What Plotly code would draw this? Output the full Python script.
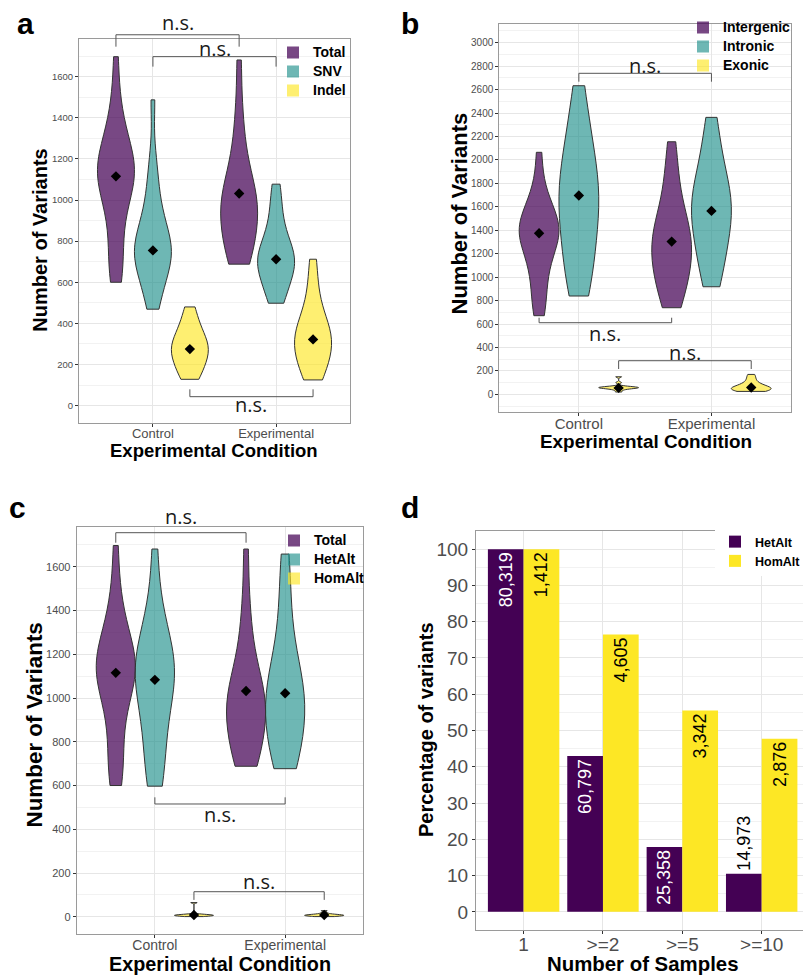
import plotly.graph_objects as go

# page body has an 8px margin: figure drawn 8px in from the reference's top-left
OFF = 8
FW, FH = 811 - OFF, 975 - OFF

# ---------------- data ----------------
conditions = ["Control", "Experimental"]

# panel a: Total / SNV / Indel
a_groups = ["Total", "SNV", "Indel"]
a_total_ctrl = [600, 640, 700, 780, 860, 940, 1000, 1040, 1070, 1090, 1110, 1130, 1150, 1170,
                1190, 1210, 1240, 1280, 1330, 1400, 1500, 1697]
a_total_exp = [688, 700, 730, 770, 810, 850, 880, 910, 940, 960, 980, 1000, 1030, 1060, 1100,
               1150, 1220, 1320, 1450, 1681]
a_snv_ctrl = [469, 520, 580, 630, 660, 690, 710, 730, 745, 760, 780, 800, 830, 860, 900, 950,
              1020, 1100, 1200, 1487]
a_snv_exp = [498, 530, 570, 610, 640, 665, 685, 700, 715, 730, 750, 775, 810, 860, 920, 1000, 1077]
a_indel_ctrl = [128, 150, 180, 210, 235, 255, 270, 285, 300, 320, 345, 380, 420, 480]
a_indel_exp = [125, 150, 185, 220, 250, 275, 295, 315, 335, 355, 380, 410, 450, 510, 600, 712]
a_total_mean = [1115, 1032]
a_snv_mean = [755, 712]
a_indel_mean = [275, 322]

# panel b: Intergenic / Intronic / Exonic
b_groups = ["Intergenic", "Intronic", "Exonic"]
b_interg_ctrl = [671, 760, 880, 1000, 1100, 1180, 1250, 1300, 1340, 1370, 1400, 1420, 1450, 1480,
                 1520, 1580, 1660, 1780, 2065]
b_interg_exp = [739, 800, 880, 960, 1020, 1080, 1130, 1180, 1230, 1280, 1320, 1370, 1420, 1470,
                1540, 1650, 1800, 1950, 2155]
b_intron_ctrl = [839, 900, 1000, 1100, 1200, 1300, 1400, 1480, 1550, 1620, 1680, 1740, 1800, 1870,
                 1950, 2050, 2150, 2280, 2420, 2633]
b_intron_exp = [918, 1000, 1100, 1200, 1290, 1370, 1440, 1500, 1550, 1600, 1650, 1700, 1760, 1830,
                1920, 2050, 2200, 2363]
b_exon_ctrl = [20, 35, 45, 50, 52, 55, 57, 58, 60, 62, 65, 70, 100, 150]
b_exon_exp = [25, 30, 35, 40, 45, 50, 55, 60, 65, 75, 90, 110, 140, 170]
b_interg_mean = [1375, 1303]
b_intron_mean = [1697, 1565]
b_exon_mean = [55, 58]

# panel c: Total / HetAlt / HomAlt
c_groups = ["Total", "HetAlt", "HomAlt"]
c_total_ctrl = a_total_ctrl
c_total_exp = a_total_exp
c_het_ctrl = [597, 630, 700, 780, 850, 920, 980, 1030, 1070, 1100, 1120, 1140, 1160, 1190, 1230,
              1280, 1350, 1450, 1681]
c_het_exp = [677, 700, 740, 790, 840, 880, 920, 950, 980, 1010, 1040, 1080, 1120, 1180, 1260,
             1380, 1520, 1658]
c_hom_ctrl = [1, 3, 4, 5, 6, 7, 8, 9, 10, 12, 65]
c_hom_exp = [1, 3, 4, 5, 6, 7, 8, 9, 10, 12, 18, 28]
c_total_mean = [1115, 1032]
c_het_mean = [1083, 1022]
c_hom_mean = [8, 8]

# panel d: percentage of variants by number of samples
d_cats = ["1", ">=2", ">=5", ">=10"]
d_het_pct = [100, 43.0, 17.9, 10.5]
d_hom_pct = [100, 76.5, 55.5, 47.7]
d_het_labels = ["80,319", "60,797", "25,358", "14,973"]
d_hom_labels = ["1,412", "4,605", "3,342", "2,876"]

# ---------------- style ----------------
VIR = ["#440154", "#21908C", "#FDE725"]
FILL = ["rgba(68,1,84,0.72)", "rgba(33,144,140,0.65)", "rgba(253,231,37,0.65)"]
OFFS = [-0.3, 0.0, 0.3]
FONT = "Liberation Sans"


def px(p):
    return (p - OFF) / FW


def py(p):
    return 1 - (p - OFF) / FH


def dom_x(p0, p1):
    return [px(p0), px(p1)]


def dom_y(ptop, pbot):
    return [py(pbot), py(ptop)]


def big(name, size=14):
    return f'<span style="font-size:{size}px">{name}</span>'


fig = go.Figure()


def add_violin_panel(n, groups, samples, means, legend):
    xr = "x" if n == 1 else f"x{n}"
    yr = "y" if n == 1 else f"y{n}"
    for gi, g in enumerate(groups):
        for ci in range(2):
            fig.add_trace(go.Violin(
                x0=ci + 1 + OFFS[gi], y=samples[gi][ci], name=g,
                showlegend=False, width=0.3, spanmode="hard",
                points=False, fillcolor=FILL[gi], line=dict(color="#333333", width=1),
                xaxis=xr, yaxis=yr, hoverinfo="y"))
        # legend-only key (plain square swatch like the original)
        fig.add_trace(go.Bar(x=[None], y=[None], name=big(g), legend=legend,
                             marker=dict(color=FILL[gi], line=dict(width=0)),
                             xaxis=xr, yaxis=yr, hoverinfo="skip"))
    xs, ys = [], []
    for gi in range(len(groups)):
        for ci in range(2):
            xs.append(ci + 1 + OFFS[gi])
            ys.append(means[gi][ci])
    fig.add_trace(go.Scatter(x=xs, y=ys, mode="markers", showlegend=False,
                             marker=dict(symbol="diamond", size=8, color="black"),
                             xaxis=xr, yaxis=yr))


add_violin_panel(1, a_groups,
                 [[a_total_ctrl, a_total_exp], [a_snv_ctrl, a_snv_exp], [a_indel_ctrl, a_indel_exp]],
                 [a_total_mean, a_snv_mean, a_indel_mean], "legend")
add_violin_panel(2, b_groups,
                 [[b_interg_ctrl, b_interg_exp], [b_intron_ctrl, b_intron_exp], [b_exon_ctrl, b_exon_exp]],
                 [b_interg_mean, b_intron_mean, b_exon_mean], "legend2")
add_violin_panel(3, c_groups,
                 [[c_total_ctrl, c_total_exp], [c_het_ctrl, c_het_exp], [c_hom_ctrl, c_hom_exp]],
                 [c_total_mean, c_het_mean, c_hom_mean], "legend3")

fig.add_trace(go.Bar(
    x=d_cats, y=d_het_pct, name="HetAlt", marker=dict(color=VIR[0], line=dict(width=0)),
    text=d_het_labels, textposition=["inside", "inside", "inside", "outside"], textangle=-90,
    insidetextanchor="end", constraintext="none", cliponaxis=False,
    insidetextfont=dict(family=FONT, size=18, color="white"),
    outsidetextfont=dict(family=FONT, size=18, color="black"),
    xaxis="x4", yaxis="y4", legend="legend4"))
fig.add_trace(go.Bar(
    x=d_cats, y=d_hom_pct, name="HomAlt", marker=dict(color=VIR[2], line=dict(width=0)),
    text=d_hom_labels, textposition="inside", textangle=-90,
    insidetextanchor="end", constraintext="none",
    insidetextfont=dict(family=FONT, size=18, color="black"),
    xaxis="x4", yaxis="y4", legend="legend4"))

# ---------------- axes ----------------
FRAME = "#9a9a9a"
GRID = "#e6e6e6"
MINOR = "#f2f2f2"


def xax(domain, tickvals=None, ticktext=None, rng=None, tsize=13, stand=-3, cat=False):
    d = dict(domain=domain, showline=True, mirror=True, linecolor=FRAME, linewidth=1,
             showgrid=True, gridcolor=GRID, gridwidth=1, zeroline=False,
             ticks="outside", ticklen=3, tickcolor="#333333", ticklabelstandoff=stand,
             tickfont=dict(family=FONT, size=tsize, color="#4d4d4d"),
             automargin=False, fixedrange=True)
    if cat:
        d.update(type="category", range=rng)
    else:
        d.update(type="linear", range=rng, tickmode="array", tickvals=tickvals, ticktext=ticktext)
    return d


def yax(domain, rng, dtick, minor, tsize=10):
    return dict(domain=domain, range=rng, dtick=dtick, tick0=0, showline=True, mirror=True,
                linecolor=FRAME, linewidth=1, showgrid=True, gridcolor=GRID, gridwidth=1,
                zeroline=False, ticks="outside", ticklen=3, tickcolor="#333333",
                minor=dict(dtick=minor, showgrid=True, gridcolor=MINOR, gridwidth=1, ticks=""),
                tickfont=dict(family=FONT, size=tsize, color="#4d4d4d"),
                automargin=False, fixedrange=True)


layout = dict(
    width=FW, height=FH, autosize=False, margin=dict(l=0, r=0, t=0, b=0),
    paper_bgcolor="white", plot_bgcolor="white",
    barmode="group", bargap=0.1, bargroupgap=0, violinmode="overlay",
    xaxis=xax(dom_x(79, 350), [1, 2], conditions, [0.4, 2.6], 13, -4),
    yaxis=yax(dom_y(39, 422.7), [-83, 1783], 200, 100, 9.5),
    xaxis2=xax(dom_x(499.3, 791), [1, 2], conditions, [0.4, 2.6], 15, -5),
    yaxis2=yax(dom_y(24.3, 411.7), [-148, 3157], 200, 100, 10),
    xaxis3=xax(dom_x(76.7, 363.3), [1, 2], conditions, [0.4, 2.6], 14, -5),
    yaxis3=yax(dom_y(526.7, 934.3), [-80, 1783], 200, 100, 11),
    xaxis4=xax(dom_x(476, 809.3), None, None, [-0.6, 3.6], 19, -6, cat=True),
    yaxis4=yax(dom_y(531, 930), [-5, 105], 10, 5, 19),
)
for n in (2, 3, 4):
    layout[f"xaxis{n}"]["anchor"] = f"y{n}"
    layout[f"yaxis{n}"]["anchor"] = f"x{n}"


def leg(xr_px, ytop_px, size, bg="rgba(255,255,255,0)"):
    return dict(x=px(xr_px), y=py(ytop_px), xanchor="right", yanchor="top",
                xref="paper", yref="paper", bgcolor=bg, borderwidth=0,
                font=dict(family=FONT, size=size, color="black", weight="bold"),
                tracegroupgap=0, itemclick=False, itemdoubleclick=False)


layout["legend"] = leg(351, 38, 12)
layout["legend2"] = leg(796, 13, 12)
layout["legend3"] = leg(370, 526, 12)
layout["legend4"] = leg(806, 527, 12.5, "white")

shapes = []
annotations = []


def bracket(n, x0, x1, y_bar, y_tip, y_text, label="n.s."):
    xr = "x" if n == 1 else f"x{n}"
    yr = ("y" if n == 1 else f"y{n}") + " domain"
    for (xa, ya, xb, yb) in [(x0, y_tip, x0, y_bar), (x0, y_bar, x1, y_bar), (x1, y_bar, x1, y_tip)]:
        shapes.append(dict(type="line", xref=xr, yref=yr, x0=xa, y0=ya, x1=xb, y1=yb,
                           line=dict(color="#555555", width=1)))
    annotations.append(dict(xref=xr, yref=yr, x=(x0 + x1) / 2, y=y_text, text=label,
                            xanchor="center", yanchor="middle", showarrow=False,
                            font=dict(family="Open Sans", size=20, color="#1a1a1a")))


bracket(1, 1 + OFFS[0], 2 + OFFS[0], 1.011, 0.980, 1.0425)
bracket(1, 1 + OFFS[1], 2 + OFFS[1], 0.954, 0.928, 0.976)
bracket(1, 1 + OFFS[2], 2 + OFFS[2], 0.0678, 0.087, 0.048)
bracket(2, 1 + OFFS[1], 2 + OFFS[1], 0.8735, 0.8518, 0.8924)
bracket(2, 1 + OFFS[0], 2 + OFFS[0], 0.2297, 0.2426, 0.2024)
bracket(2, 1 + OFFS[2], 2 + OFFS[2], 0.1316, 0.1102, 0.1533)
bracket(3, 1 + OFFS[0], 2 + OFFS[0], 0.9853, 0.9607, 1.0245)
bracket(3, 1 + OFFS[1], 2 + OFFS[1], 0.3197, 0.3361, 0.2927)
bracket(3, 1 + OFFS[2], 2 + OFFS[2], 0.1045, 0.0844, 0.129)

# panel letters
for lab, xp, yp in [("a", 15, 23), ("b", 399, 23), ("c", 7, 507.5), ("d", 399, 507.5)]:
    annotations.append(dict(xref="paper", yref="paper", x=px(xp), y=py(yp), xanchor="left",
                            yanchor="middle", text=lab, showarrow=False,
                            font=dict(family=FONT, size=30, color="black", weight="bold")))

# axis titles
for txt, xp, yp, size, ang in [
    ("Experimental Condition", 214.2, 451, 18.5, 0),
    ("Number of Variants", 40, 240.7, 20, -90),
    ("Experimental Condition", 645.5, 442, 18.9, 0),
    ("Number of Variants", 459, 213.5, 22, -90),
    ("Experimental Condition", 219.7, 964, 19.8, 0),
    ("Number of Variants", 33.5, 725, 22.4, -90),
    ("Number of Samples", 642.5, 963.5, 20.4, 0),
    ("Percentage of variants", 425.5, 729.5, 20, -90),
]:
    annotations.append(dict(xref="paper", yref="paper", x=px(xp), y=py(yp), xanchor="center",
                            yanchor="middle", text=txt, showarrow=False, textangle=ang,
                            font=dict(family=FONT, size=size, color="black", weight="bold")))

layout["shapes"] = shapes
layout["annotations"] = annotations
fig.update_layout(**layout)

fig.write_html("out.html")
